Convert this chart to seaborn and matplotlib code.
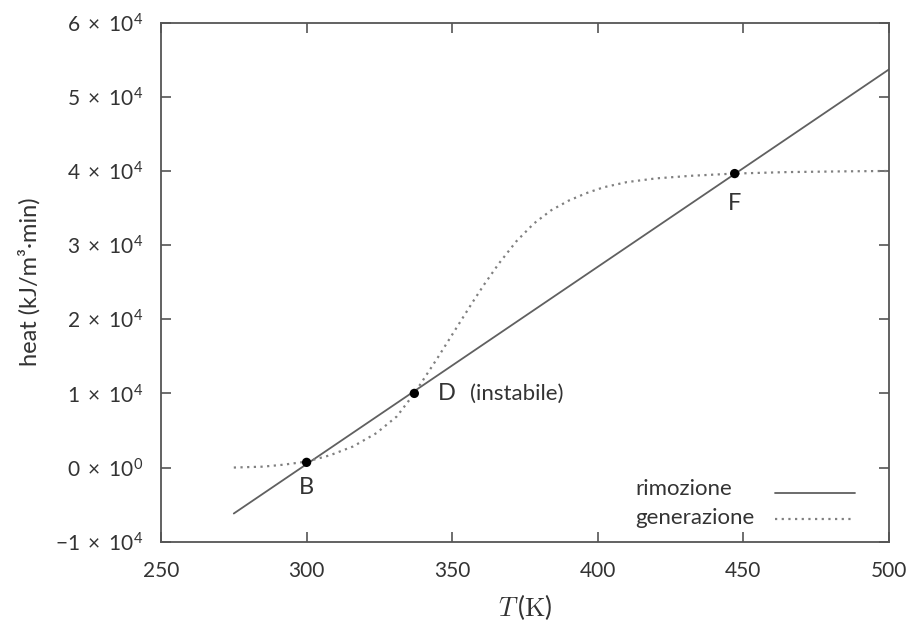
import matplotlib
matplotlib.use("Agg")
import matplotlib.pyplot as plt
import seaborn as sns
import pandas as pd

# ---- data ----
rem_T = [275, 500]
rem_Q = [-6200, 53700]

gen_T = [275, 285, 292, 300, 308, 316, 324, 331, 337, 341, 345, 349, 353, 357,
         361, 366, 372, 378, 384, 390, 396, 402, 410, 420, 432, 447, 465, 485, 500]
gen_Q = [0, 120, 380, 800, 1650, 2850, 4650, 6900, 10000, 12400, 14800, 17300,
         19800, 22300, 24700, 27500, 30500, 32900, 34700, 36000, 37000, 37800,
         38500, 39000, 39350, 39650, 39850, 39950, 40000]

pt_labels = ["B", "D", "F"]
pt_T = [300, 337, 447]
pt_Q = [700, 10000, 39650]

series_labels = ["rimozione", "generazione"]

xticks = [250, 300, 350, 400, 450, 500]
yticks = [-10000, 0, 10000, 20000, 30000, 40000, 50000, 60000]
ytick_labels = [r"$-1\ \times\ 10^{4}$", r"$0\ \times\ 10^{0}$", r"$1\ \times\ 10^{4}$",
                r"$2\ \times\ 10^{4}$", r"$3\ \times\ 10^{4}$", r"$4\ \times\ 10^{4}$",
                r"$5\ \times\ 10^{4}$", r"$6\ \times\ 10^{4}$"]

sns.set_style("ticks")
FAM = ["Lato", "DejaVu Sans"]
plt.rcParams["font.family"] = FAM
plt.rcParams["mathtext.fontset"] = "custom"
plt.rcParams["mathtext.rm"] = "Lato"
plt.rcParams["mathtext.it"] = "Lato:italic"
plt.rcParams["mathtext.bf"] = "Lato:bold"
plt.rcParams["mathtext.default"] = "regular"
TXT = "#333333"
AXC = "#555555"

fig = plt.figure(figsize=(9.09, 6.25), dpi=100)
ax = fig.add_axes([0.1771, 0.1333, 0.8009, 0.8304])

df_rem = pd.DataFrame({"T": rem_T, "Q": rem_Q})
df_gen = pd.DataFrame({"T": gen_T, "Q": gen_Q})
df_pt = pd.DataFrame({"T": pt_T, "Q": pt_Q})

sns.lineplot(data=df_rem, x="T", y="Q", ax=ax, color="#606060", lw=1.3,
             label=series_labels[0], sort=False, legend=False)
sns.lineplot(data=df_gen, x="T", y="Q", ax=ax, color="#808080", lw=1.6,
             linestyle=(0, (1, 2)), label=series_labels[1], sort=False, legend=False)
sns.scatterplot(data=df_pt, x="T", y="Q", ax=ax, color="black", s=45,
                edgecolor="none", zorder=5, legend=False)

# point labels
ax.text(pt_T[0], pt_Q[0] - 2000, pt_labels[0], ha="center", va="top", fontsize=17, color=TXT)
ax.text(pt_T[1] + 8, pt_Q[1], pt_labels[1], ha="left", va="center", fontsize=17, color=TXT)
ax.text(pt_T[1] + 19, pt_Q[1], "(instabile)", ha="left", va="center",
        fontsize=16, color=TXT)
ax.text(pt_T[2], pt_Q[2] - 2600, pt_labels[2], ha="center", va="top", fontsize=17, color=TXT)

ax.set_xlim(250, 500)
ax.set_ylim(-10000, 60000)
ax.set_xticks(xticks)
ax.set_xticklabels([str(v) for v in xticks], fontsize=15, color=TXT)
ax.set_yticks(yticks)
ax.set_yticklabels(ytick_labels, fontsize=15, color=TXT)

for s in ax.spines.values():
    s.set_visible(True)
    s.set_color(AXC)
    s.set_linewidth(1.3)
ax.tick_params(direction="in", length=7, width=1.2, color=AXC,
               top=True, right=True)
ax.tick_params(axis="x", pad=14)
ax.tick_params(axis="y", pad=13)

ax.set_xlabel(r"$\mathit{T}\,(\mathrm{K})$", fontsize=19, color=TXT,
              math_fontfamily="cm", labelpad=8)
ax.set_ylabel("heat (kJ/m\u00b3\u00b7min)", fontsize=17, color=TXT, labelpad=10)

# legend: text on the left (left aligned), line sample on the right
handles, _ = ax.get_legend_handles_labels()
leg = ax.legend(handles, [" ", " "], loc="lower right",
                bbox_to_anchor=(0.953, 0.02), frameon=False, markerfirst=False,
                fontsize=17, handlelength=3.4, handletextpad=0.0, borderpad=0.0,
                borderaxespad=0.0, labelspacing=0.2)
ax.text(0.651, 0.1015, series_labels[0], transform=ax.transAxes, ha="left",
        va="center", fontsize=16, color=TXT)
ax.text(0.651, 0.0457, series_labels[1], transform=ax.transAxes, ha="left",
        va="center", fontsize=16, color=TXT)

fig.savefig("out.png", dpi=100)
